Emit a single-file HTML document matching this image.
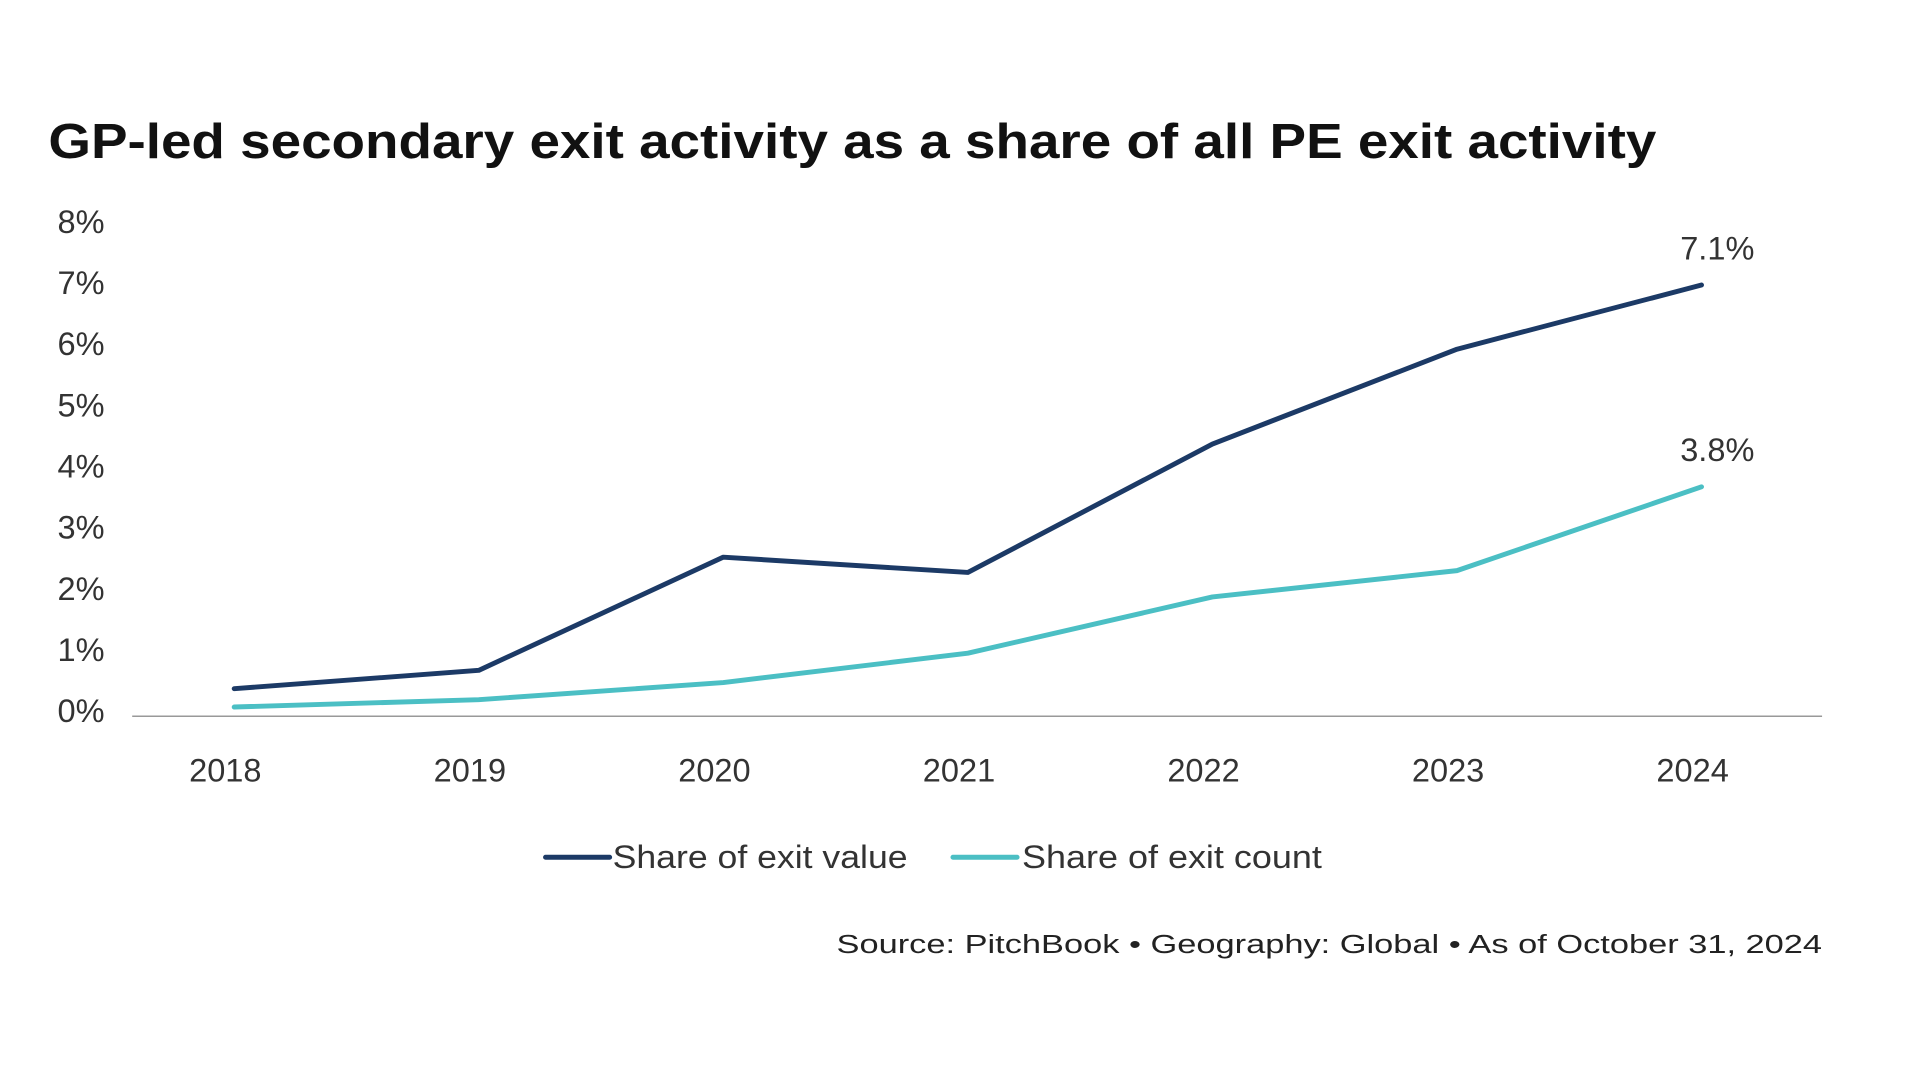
<!DOCTYPE html>
<html><head><meta charset="utf-8"><style>
html,body{margin:0;padding:0;background:#fff;}
svg{display:block;font-family:"Liberation Sans",sans-serif;}
</style></head><body>
<svg id="chart" width="1920" height="1080" viewBox="0 0 1920 1080">
<g transform="scale(0.9865)">
<text x="49" y="160" font-size="50" font-weight="bold" fill="#111" textLength="1630" lengthAdjust="spacingAndGlyphs">GP-led secondary exit activity as a share of all PE exit activity</text>
<g id="yaxis"></g>
<g id="xaxis"></g>
<line x1="134" y1="726" x2="1847" y2="726" stroke="#999" stroke-width="1.5"/>
<g id="series"></g>
<g>
<g>
<line x1="553" y1="869" x2="618" y2="869" stroke="#1c3a66" stroke-width="5" stroke-linecap="round"/>
<text x="621" y="880" font-size="33" fill="#333" textLength="299" lengthAdjust="spacingAndGlyphs">Share of exit value</text></g>
<g>
<line x1="966" y1="869" x2="1031" y2="869" stroke="#4bbfc4" stroke-width="5" stroke-linecap="round"/>
<text x="1036" y="880" font-size="33" fill="#333" textLength="304" lengthAdjust="spacingAndGlyphs">Share of exit count</text></g>
</g>
<text x="1847" y="966" font-size="26" fill="#222" text-anchor="end" textLength="999" lengthAdjust="spacingAndGlyphs">Source: PitchBook  •  Geography: Global  •  As of October 31, 2024</text>
</g>
</svg>
<script>
const years = ["2018","2019","2020","2021","2022","2023","2024"];
const shareValue = [0.45,0.75,2.6,2.35,4.45,6.0,7.05];
const shareCount = [0.15,0.27,0.55,1.03,1.95,2.38,3.75];
const yTicks = [0,1,2,3,4,5,6,7,8];
const endLabels = ["7.1%","3.8%"];
const NS="http://www.w3.org/2000/svg";
function xPos(i){return 237.4+i*247.9;}
function yPos(v){return 726-v*62;}
const yg=document.getElementById('yaxis');
yTicks.forEach(t=>{
  const el=document.createElementNS(NS,'text');
  
  
  el.setAttribute('x',106);el.setAttribute('y',yPos(t)+6);
  el.setAttribute('font-size','33');el.setAttribute('fill','#333');el.setAttribute('text-anchor','end');
  el.textContent=t+'%';yg.appendChild(el);
});
const xg=document.getElementById('xaxis');
years.forEach((y,i)=>{
  const el=document.createElementNS(NS,'text');
  
  
  el.setAttribute('x',xPos(i)-9);el.setAttribute('y',792);
  el.setAttribute('font-size','33');el.setAttribute('fill','#333');el.setAttribute('text-anchor','middle');
  el.textContent=y;xg.appendChild(el);
});
const sg=document.getElementById('series');
[[shareValue,'#1c3a66','line-exit-value'],[shareCount,'#4bbfc4','line-exit-count']].forEach((s,k)=>{
  const p=document.createElementNS(NS,'polyline');
  
  
  p.setAttribute('points',s[0].map((v,i)=>xPos(i)+','+yPos(v)).join(' '));
  p.setAttribute('fill','none');p.setAttribute('stroke',s[1]);p.setAttribute('stroke-width','5');
  p.setAttribute('stroke-linejoin','round');p.setAttribute('stroke-linecap','round');
  sg.appendChild(p);
  const n=s[0].length-1;
  const t=document.createElementNS(NS,'text');
  
  
  t.setAttribute('x',xPos(n)+16);t.setAttribute('y',yPos(s[0][n])-26);
  t.setAttribute('font-size','33');t.setAttribute('fill','#333');t.setAttribute('text-anchor','middle');
  t.textContent=endLabels[k];sg.appendChild(t);
});
</script>
</body></html>
